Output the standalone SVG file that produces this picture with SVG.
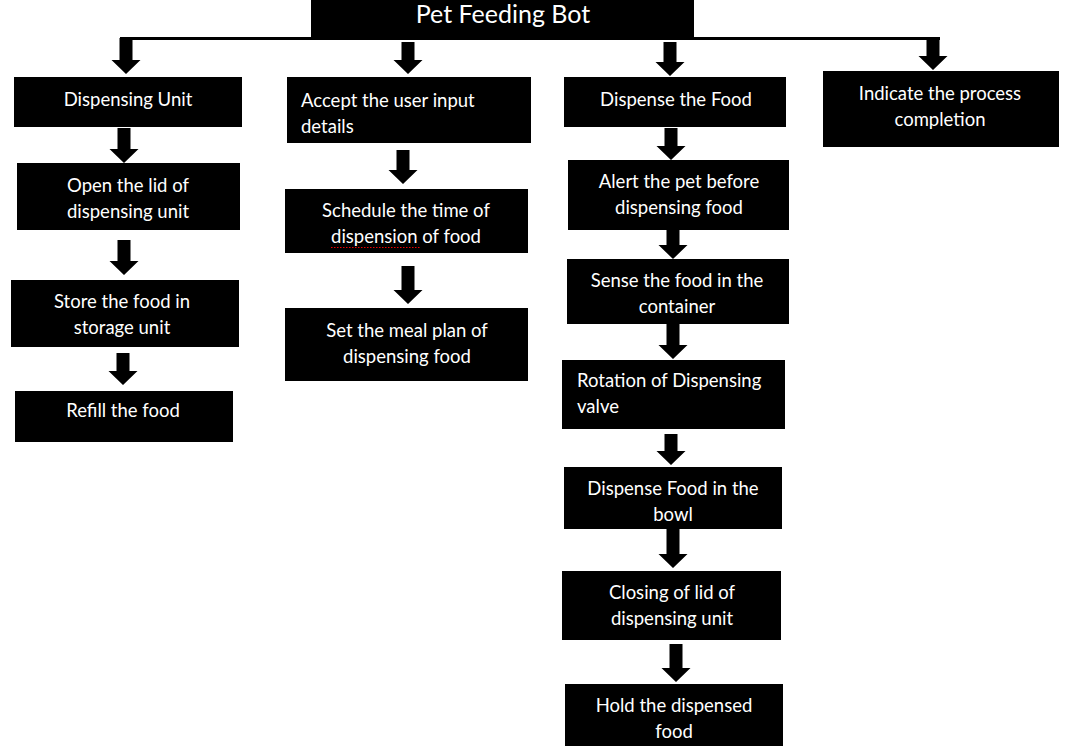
<svg xmlns="http://www.w3.org/2000/svg" width="1075" height="746" viewBox="0 0 1075 746">
<style>
.box{fill:#000}
.t{fill:#fff;font-family:Lato,"Open Sans","Liberation Sans",sans-serif;font-size:18.5px}
.c{text-anchor:middle}
.title{font-size:25px}
.arr{fill:#000}
</style>
<rect width="1075" height="746" fill="#fff"/>
<g id="connectors">
<rect x="120" y="37" width="820" height="3" fill="#000"/>
<path class="arr" d="M119.5 38H132.5V60H140.5L126 74L111.5 60H119.5Z"/>
<path class="arr" d="M401.5 42H414.5V60H422.5L408 74L393.5 60H401.5Z"/>
<path class="arr" d="M663.5 42H676.5V62H684.5L670 76L655.5 62H663.5Z"/>
<path class="arr" d="M926.5 38H939.5V56H947.5L933 70L918.5 56H926.5Z"/>
<path class="arr" d="M117.5 128H130.5V149H138.5L124 163L109.5 149H117.5Z"/>
<path class="arr" d="M117.5 240H130.5V261H138.5L124 275L109.5 261H117.5Z"/>
<path class="arr" d="M116.5 353H129.5V371H137.5L123 385L108.5 371H116.5Z"/>
<path class="arr" d="M396.5 150H409.5V170H417.5L403 184L388.5 170H396.5Z"/>
<path class="arr" d="M401.5 266H414.5V290H422.5L408 304L393.5 290H401.5Z"/>
<path class="arr" d="M664.5 128H677.5V146H685.5L671 160L656.5 146H664.5Z"/>
<path class="arr" d="M666.5 230H679.5V245H687.5L673 259L658.5 245H666.5Z"/>
<path class="arr" d="M666.5 324H679.5V345H687.5L673 359L658.5 345H666.5Z"/>
<path class="arr" d="M664.5 434H677.5V451H685.5L671 465L656.5 451H664.5Z"/>
<path class="arr" d="M666.5 529H679.5V554H687.5L673 568L658.5 554H666.5Z"/>
<path class="arr" d="M669.5 644H682.5V668H690.5L676 682L661.5 668H669.5Z"/>
</g>
<g id="title">
<rect class="box" x="311" y="0" width="383" height="37"/>
<text class="t c title" x="503" y="23">Pet Feeding Bot</text>
</g>
<g id="dispensing-unit">
<rect class="box" x="14" y="77" width="228" height="50"/>
<text class="t c" x="128" y="106">Dispensing Unit</text>
</g>
<g id="open-lid">
<rect class="box" x="17" y="163" width="223" height="67"/>
<text class="t c" x="128" y="192">Open the lid of</text>
<text class="t c" x="128" y="218">dispensing unit</text>
</g>
<g id="store-food">
<rect class="box" x="11" y="280" width="228" height="67"/>
<text class="t c" x="122" y="308">Store the food in</text>
<text class="t c" x="122" y="334">storage unit</text>
</g>
<g id="refill-food">
<rect class="box" x="15" y="391" width="218" height="51"/>
<text class="t c" x="123" y="417">Refill the food</text>
</g>
<g id="accept-input">
<rect class="box" x="287" y="77" width="244" height="66"/>
<text class="t" x="301" y="107">Accept the user input</text>
<text class="t" x="301" y="133">details</text>
</g>
<g id="schedule-time">
<rect class="box" x="285" y="189" width="243" height="64"/>
<text class="t c" x="406" y="217">Schedule the time of</text>
<text class="t c" x="406" y="243">dispension of food</text>
<line x1="331" y1="247.5" x2="420" y2="247.5" stroke="#e00" stroke-width="1" stroke-dasharray="1.5 1.5"/>
</g>
<g id="meal-plan">
<rect class="box" x="285" y="308" width="243" height="73"/>
<text class="t c" x="407" y="337">Set the meal plan of</text>
<text class="t c" x="407" y="363">dispensing food</text>
</g>
<g id="dispense-food">
<rect class="box" x="564" y="77" width="222" height="50"/>
<text class="t c" x="676" y="106">Dispense the Food</text>
</g>
<g id="alert-pet">
<rect class="box" x="568" y="160" width="221" height="70"/>
<text class="t c" x="679" y="188">Alert the pet before</text>
<text class="t c" x="679" y="214">dispensing food</text>
</g>
<g id="sense-food">
<rect class="box" x="567" y="259" width="222" height="65"/>
<text class="t c" x="677" y="287">Sense the food in the</text>
<text class="t c" x="677" y="313">container</text>
</g>
<g id="rotation-valve">
<rect class="box" x="562" y="360" width="223" height="69"/>
<text class="t" x="577" y="387">Rotation of Dispensing</text>
<text class="t" x="577" y="413">valve</text>
</g>
<g id="dispense-bowl">
<rect class="box" x="564" y="467" width="218" height="62"/>
<text class="t c" x="673" y="495">Dispense Food in the</text>
<text class="t c" x="673" y="521">bowl</text>
</g>
<g id="closing-lid">
<rect class="box" x="562" y="571" width="219" height="69"/>
<text class="t c" x="672" y="599">Closing of lid of</text>
<text class="t c" x="672" y="625">dispensing unit</text>
</g>
<g id="hold-food">
<rect class="box" x="565" y="684" width="218" height="62"/>
<text class="t c" x="674" y="712">Hold the dispensed</text>
<text class="t c" x="674" y="738">food</text>
</g>
<g id="indicate-completion">
<rect class="box" x="823" y="71" width="236" height="76"/>
<text class="t c" x="940" y="100">Indicate the process</text>
<text class="t c" x="940" y="126">completion</text>
</g>
</svg>
